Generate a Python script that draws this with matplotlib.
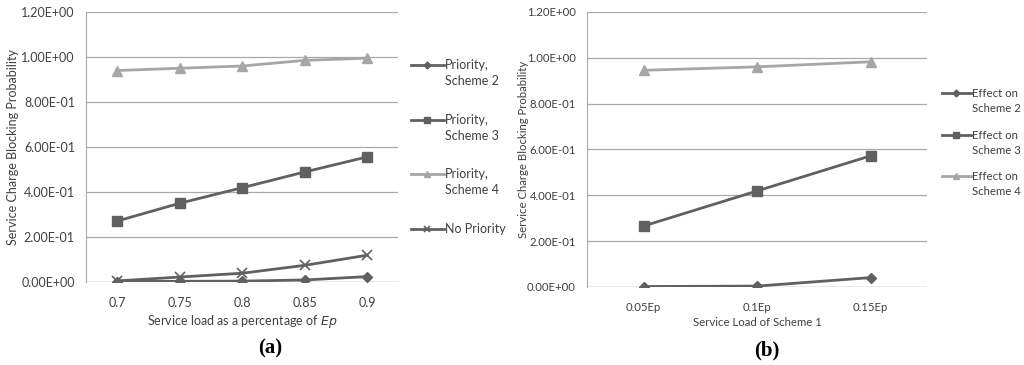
import matplotlib.pyplot as plt

# data, panel (a)
loads_a = ['0.7', '0.75', '0.8', '0.85', '0.9']
prio_s2 = [0.002, 0.003, 0.004, 0.009, 0.024]
prio_s3 = [0.271, 0.350, 0.419, 0.489, 0.556]
prio_s4 = [0.940, 0.950, 0.960, 0.985, 0.995]
no_prio = [0.005, 0.022, 0.039, 0.074, 0.119]

# data, panel (b)
loads_b = ['0.05Ep', '0.1Ep', '0.15Ep']
eff_s2 = [0.002, 0.004, 0.041]
eff_s3 = [0.266, 0.419, 0.572]
eff_s4 = [0.945, 0.960, 0.982]

dark = '#606060'
light = '#a6a6a6'
grid = '#a9a9a9'
txt = '#404040'
fs_a = 9
fs_b = 8.2

plt.rcParams['font.family'] = ['Lato', 'DejaVu Sans']

fig = plt.figure(figsize=(10.24, 3.65), dpi=100)
ax1 = fig.add_axes([0.084, 0.2274, 0.305, 0.7397])
ax2 = fig.add_axes([0.5732, 0.2137, 0.3325, 0.754])


def style(ax, fs, xpad):
    ax.set_ylim(0, 1.2)
    ax.set_yticks([0, 0.2, 0.4, 0.6, 0.8, 1.0, 1.2])
    ax.set_yticklabels(['%.2E' % v for v in ax.get_yticks()], fontsize=fs, color=txt)
    ax.grid(axis='y', color=grid, linewidth=0.9)
    ax.set_axisbelow(True)
    for s in ['top', 'right', 'bottom']:
        ax.spines[s].set_visible(False)
    ax.spines['left'].set_color(grid)
    ax.axhline(0, color=grid, linewidth=0.9, zorder=1)
    ax.tick_params(length=0, pad=8)
    ax.tick_params(axis='x', labelsize=fs, labelcolor=txt, pad=xpad)
    ax.set_ylabel('Service Charge Blocking Probability', fontsize=fs, color=txt)


def make_legend(ax, fs, anchor, spacing):
    leg = ax.legend(loc='upper left', bbox_to_anchor=anchor, frameon=False, fontsize=fs,
                    handlelength=2.6, handletextpad=0.1, labelspacing=spacing, markerscale=0.7,
                    borderpad=0.2, borderaxespad=0.2)
    for t in leg.get_texts():
        t.set_color(txt)
    return leg


# (a)
x = range(len(loads_a))
ax1.plot(x, prio_s2, color=dark, lw=2, marker='D', ms=5, label='Priority,')
ax1.plot(x, prio_s3, color=dark, lw=2, marker='s', ms=7, label='Priority,')
ax1.plot(x, prio_s4, color=light, lw=2, marker='^', ms=7, label='Priority,')
ax1.plot(x, no_prio, color=dark, lw=2, marker='x', ms=7, mew=1.2, label='No Priority')
ax1.set_xlim(-0.5, len(loads_a) - 0.5)
ax1.set_xticks(list(x))
ax1.set_xticklabels(loads_a)
style(ax1, fs_a, 11)
ax1.yaxis.set_label_coords(-0.215, 0.5)
ax1.set_xlabel('Service load as a percentage of $\\it{Ep}$', fontsize=fs_a, color=txt, labelpad=3)
leg1 = make_legend(ax1, fs_a, (1.025, 0.843), 3.4)

# (b)
xb = range(len(loads_b))
ax2.plot(xb, eff_s2, color=dark, lw=2, marker='D', ms=5, label='Effect on')
ax2.plot(xb, eff_s3, color=dark, lw=2, marker='s', ms=7, label='Effect on')
ax2.plot(xb, eff_s4, color=light, lw=2, marker='^', ms=7, label='Effect on')
ax2.set_xlim(-0.5, len(loads_b) - 0.5)
ax2.set_xticks(list(xb))
ax2.set_xticklabels(loads_b)
style(ax2, fs_b, 11)
ax2.yaxis.set_label_coords(-0.17, 0.5)
ax2.set_xlabel('Service Load of Scheme 1', fontsize=fs_b, color=txt, labelpad=3)
leg2 = make_legend(ax2, fs_b, (1.028, 0.74), 2.7)

fig.text(270 / 1024, 1 - 348 / 365, '(a)', family='Liberation Serif', fontsize=15, fontweight='bold',
         ha='center', va='center')
fig.text(767 / 1024, 1 - 350 / 365, '(b)', family='Liberation Serif', fontsize=15, fontweight='bold',
         ha='center', va='center')

# second line of the legend labels, placed under the first line
fig.canvas.draw()
inv = fig.transFigure.inverted()
for leg, fs, second in [(leg1, fs_a, ['Scheme 2', 'Scheme 3', 'Scheme 4', '']),
                        (leg2, fs_b, ['Scheme 2', 'Scheme 3', 'Scheme 4'])]:
    for t, s in zip(leg.get_texts(), second):
        if not s:
            continue
        bb = t.get_window_extent()
        x0, y0 = inv.transform((bb.x0, bb.y0 - 4))
        fig.text(x0, y0, s, fontsize=fs, color=txt, ha='left', va='top')

fig.savefig('out.png', dpi=100)
